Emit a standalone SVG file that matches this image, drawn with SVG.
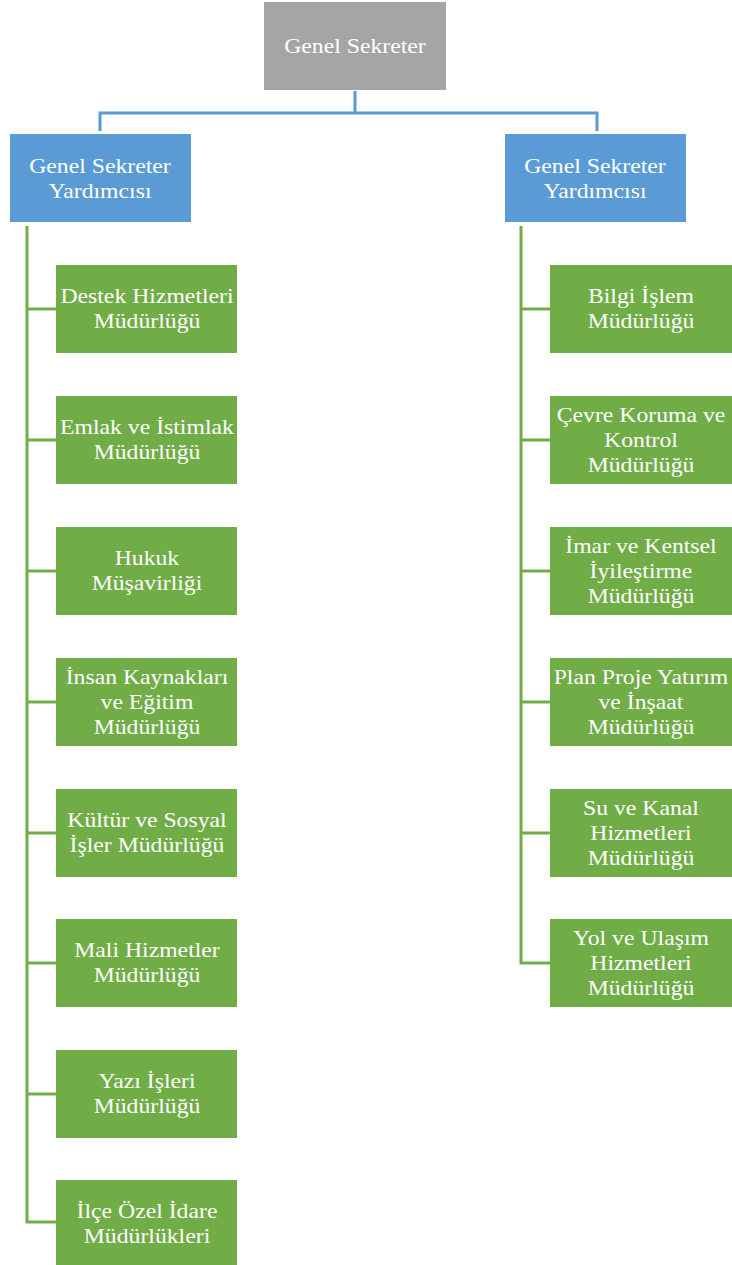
<svg xmlns="http://www.w3.org/2000/svg" width="732" height="1265" viewBox="0 0 732 1265">
<style>
.t{font-family:"Liberation Serif","Times New Roman",serif;font-size:21px;fill:#fff;text-anchor:middle;transform:scaleX(1.13);transform-box:fill-box;transform-origin:center}
.g{fill:#70ad47}
.b{fill:#5b9bd5}
.bl{stroke:#5b9bd5;stroke-width:3;fill:none}
.gl{stroke:#70ad47;stroke-width:3;fill:none}
</style>
<rect width="732" height="1265" fill="#fff"/>
<g id="connectors">
<path class="bl" d="M355,91V113M100,131V113H597V131"/>
<path class="gl" d="M27,226V1222H56M27,309H56M27,440H56M27,571H56M27,702H56M27,833H56M27,963H56M27,1094H56"/>
<path class="gl" d="M521,226V963H550M521,309H550M521,440H550M521,571H550M521,702H550M521,833H550"/>
</g>
<g id="n0"><rect x="264" y="2" width="182" height="88" fill="#a5a5a5"/><text class="t" x="355" y="53">Genel Sekreter</text></g>
<g id="n1"><rect class="b" x="10" y="134" width="181" height="88"/><text class="t" x="100" y="173">Genel Sekreter</text><text class="t" x="100" y="198">Yardımcısı</text></g>
<g id="n2"><rect class="b" x="505" y="134" width="181" height="88"/><text class="t" x="595" y="173">Genel Sekreter</text><text class="t" x="595" y="198">Yardımcısı</text></g>
<g id="l1"><rect class="g" x="56" y="265" width="181" height="88"/><text class="t" x="147" y="303">Destek Hizmetleri</text><text class="t" x="147" y="328">Müdürlüğü</text></g>
<g id="l2"><rect class="g" x="56" y="396" width="181" height="88"/><text class="t" x="147" y="434">Emlak ve İstimlak</text><text class="t" x="147" y="459">Müdürlüğü</text></g>
<g id="l3"><rect class="g" x="56" y="527" width="181" height="88"/><text class="t" x="147" y="565">Hukuk</text><text class="t" x="147" y="590">Müşavirliği</text></g>
<g id="l4"><rect class="g" x="56" y="658" width="181" height="88"/><text class="t" x="147" y="684">İnsan Kaynakları</text><text class="t" x="147" y="709">ve Eğitim</text><text class="t" x="147" y="734">Müdürlüğü</text></g>
<g id="l5"><rect class="g" x="56" y="789" width="181" height="88"/><text class="t" x="147" y="827">Kültür ve Sosyal</text><text class="t" x="147" y="852">İşler Müdürlüğü</text></g>
<g id="l6"><rect class="g" x="56" y="919" width="181" height="88"/><text class="t" x="147" y="957">Mali Hizmetler</text><text class="t" x="147" y="982">Müdürlüğü</text></g>
<g id="l7"><rect class="g" x="56" y="1050" width="181" height="88"/><text class="t" x="147" y="1088">Yazı İşleri</text><text class="t" x="147" y="1113">Müdürlüğü</text></g>
<g id="l8"><rect class="g" x="56" y="1180" width="181" height="88"/><text class="t" x="147" y="1218">İlçe Özel İdare</text><text class="t" x="147" y="1243">Müdürlükleri</text></g>
<g id="r1"><rect class="g" x="550" y="265" width="182" height="88"/><text class="t" x="641" y="303">Bilgi İşlem</text><text class="t" x="641" y="328">Müdürlüğü</text></g>
<g id="r2"><rect class="g" x="550" y="396" width="182" height="88"/><text class="t" x="641" y="422">Çevre Koruma ve</text><text class="t" x="641" y="447">Kontrol</text><text class="t" x="641" y="472">Müdürlüğü</text></g>
<g id="r3"><rect class="g" x="550" y="527" width="182" height="88"/><text class="t" x="641" y="553">İmar ve Kentsel</text><text class="t" x="641" y="578">İyileştirme</text><text class="t" x="641" y="603">Müdürlüğü</text></g>
<g id="r4"><rect class="g" x="550" y="658" width="182" height="88"/><text class="t" x="641" y="684">Plan Proje Yatırım</text><text class="t" x="641" y="709">ve İnşaat</text><text class="t" x="641" y="734">Müdürlüğü</text></g>
<g id="r5"><rect class="g" x="550" y="789" width="182" height="88"/><text class="t" x="641" y="815">Su ve Kanal</text><text class="t" x="641" y="840">Hizmetleri</text><text class="t" x="641" y="865">Müdürlüğü</text></g>
<g id="r6"><rect class="g" x="550" y="919" width="182" height="88"/><text class="t" x="641" y="945">Yol ve Ulaşım</text><text class="t" x="641" y="970">Hizmetleri</text><text class="t" x="641" y="995">Müdürlüğü</text></g>
</svg>
